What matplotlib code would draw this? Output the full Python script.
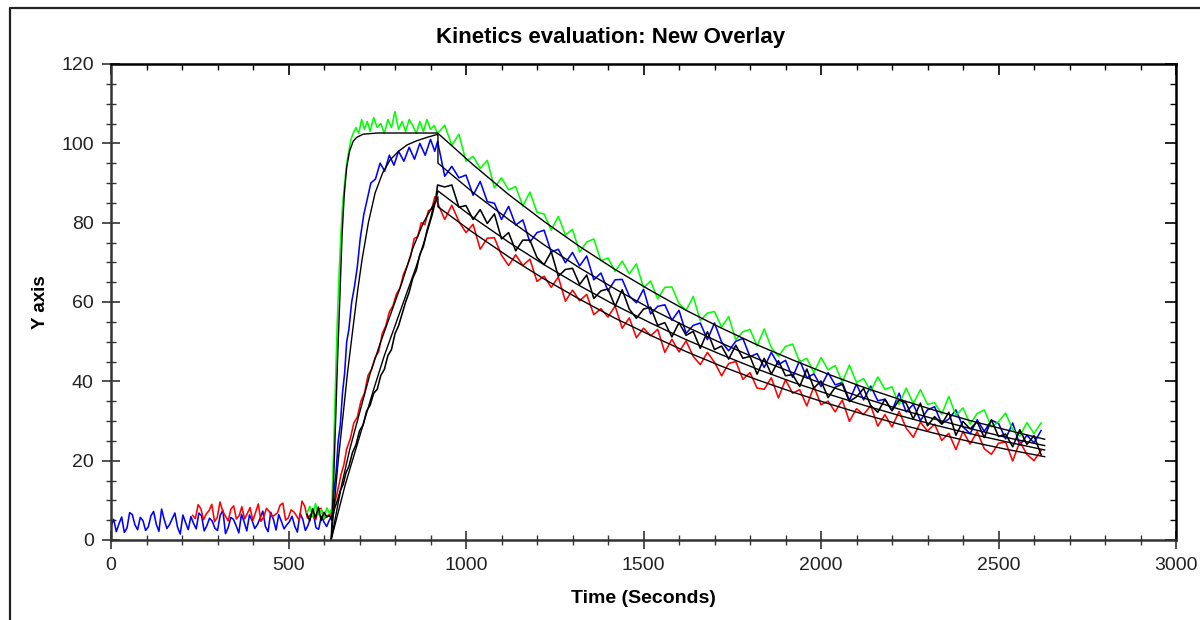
import numpy as np
import matplotlib.pyplot as plt
from matplotlib.ticker import MultipleLocator
from matplotlib.lines import Line2D

plt.rcParams['font.family'] = ['Liberation Sans', 'DejaVu Sans']

# dissociation phase is read every 20 s
t_diss = np.arange(940, 2621, 20)
# fitted curves read every 100 s in the dissociation phase
t_fit_diss = [1020, 1120, 1220, 1320, 1420, 1520, 1620, 1720, 1820, 1920,
              2020, 2120, 2220, 2320, 2420, 2520, 2630]

# ---- blue trace ----
blue_base = [3.5, 5.2, 2.1, 4.1, 5.8, 1.9, 3.0, 6.9, 6.4, 3.8, 2.6, 5.7, 4.9, 2.4,
             3.3, 6.1, 7.2, 4.0, 2.2, 7.8, 5.1, 2.9, 3.9, 5.4, 6.8, 3.2, 1.5, 6.3,
             4.4, 2.6, 5.9, 4.2, 2.8, 6.8, 6.1, 2.3, 3.6, 5.5, 4.8, 3.0, 2.4, 6.2,
             7.5, 1.6, 3.1, 5.7, 5.2, 3.6, 1.8, 6.5, 4.6, 2.3, 6.3, 4.9, 2.9, 3.9,
             5.5, 7.3, 3.4, 2.1, 7.0, 5.2, 2.5, 6.4, 4.7, 2.8, 3.8, 4.6, 6.0, 3.5,
             2.0, 6.7, 5.3, 2.4, 3.7, 5.9, 6.6, 3.1, 2.7, 6.0, 4.5, 3.4, 5.0]
blue_rise_t = [622, 628, 634, 640, 646, 652, 658, 664, 670, 678, 686, 694, 702, 712,
               722, 732, 745, 758, 771, 784, 797, 810, 825, 840, 855, 870, 885, 900,
               912, 920]
blue_rise = [6, 12, 17, 25, 29, 37, 42, 50, 53, 60, 64, 69, 76, 82, 86, 90, 91, 95,
             93, 97, 94.5, 98, 95.5, 99, 96, 100, 97, 101, 98, 100.5]
blue_diss = [91.7, 94.2, 91.3, 92.0, 86.9, 90.4, 85.3, 84.9, 80.8, 84.1,
             79.4, 80.7, 75.1, 77.5, 78.1, 72.6, 73.3, 69.9, 72.5, 69.1,
             71.6, 65.6, 67.3, 62.8, 65.6, 65.7, 61.5, 59.8, 63.2, 57.0,
             58.9, 59.3, 55.4, 57.9, 52.1, 54.1, 54.7, 50.5, 54.7, 49.9,
             47.7, 50.1, 50.8, 46.2, 47.0, 43.5, 47.3, 44.2, 45.3, 41.0,
             45.3, 40.9, 41.9, 38.7, 42.2, 39.1, 39.7, 35.2, 39.3, 35.3,
             38.8, 35.1, 35.5, 32.6, 37.0, 32.3, 34.2, 30.1, 32.8, 33.6,
             29.3, 30.5, 32.8, 28.5, 26.8, 30.3, 27.4, 30.2, 29.4, 25.5,
             29.5, 23.9, 26.4, 24.5, 27.6]

# ---- red trace ----
red_base = [6.2, 5.4, 8.9, 7.9, 5.1, 6.6, 7.4, 9.0, 4.6, 5.7, 9.6, 7.3, 6.0, 4.8,
            7.8, 8.6, 5.3, 6.1, 8.4, 5.3, 6.7, 8.2, 4.9, 6.9, 9.1, 4.7, 5.8, 8.0,
            7.2, 5.9, 6.3, 6.8, 8.8, 9.3, 5.0, 5.6, 7.6, 7.1, 6.1, 4.9, 9.8, 8.5,
            5.5, 6.3, 6.9, 5.1, 7.7, 8.0, 5.2, 6.0, 6.4]
red_rise_t = [624, 632, 640, 648, 656, 664, 674, 684, 694, 704, 714, 724, 734, 744,
              754, 764, 774, 784, 794, 804, 814, 824, 834, 844, 854, 864, 874, 884,
              894, 904, 912, 920]
red_rise = [7, 10, 13, 16.5, 19, 23, 25.5, 29.5, 31, 35, 37, 41.5, 43, 46, 47.5, 52,
            54, 57.5, 59, 62, 63.5, 67, 69, 71.5, 76, 76.5, 80, 79.5, 83, 83.5, 86.5, 85]
red_diss = [80.8, 84.4, 80.3, 77.5, 79.6, 73.3, 76.1, 76.2, 71.8, 69.2,
            71.9, 69.2, 70.8, 65.2, 66.5, 63.7, 66.3, 60.2, 63.0, 60.3,
            61.9, 56.8, 58.3, 56.2, 59.0, 53.4, 56.0, 51.0, 53.4, 51.5,
            53.1, 47.3, 50.6, 47.4, 50.2, 46.3, 44.2, 47.3, 44.8, 41.4,
            44.5, 45.0, 40.5, 42.2, 38.3, 38.0, 40.9, 35.8, 40.4, 37.0,
            37.9, 33.8, 38.7, 34.1, 35.0, 32.3, 35.3, 29.9, 33.1, 31.6,
            33.9, 28.7, 31.6, 28.5, 32.4, 28.2, 25.9, 29.7, 27.5, 29.2,
            25.1, 26.9, 22.8, 27.4, 24.2, 27.3, 23.0, 21.6, 24.4, 24.7,
            19.9, 24.8, 21.6, 20.0, 22.6]

# ---- green trace ----
green_base = [6.8, 8.5, 5.9, 9.2, 6.4, 7.7, 5.5, 8.1, 6.6]
green_rise_t = [622, 627, 632, 637, 642, 647, 652, 658, 664, 670, 676, 682, 690, 698,
                706, 714, 722, 730, 740, 750, 760, 770, 780, 790, 800, 810, 820, 830,
                840, 850, 860, 870, 880, 890, 900, 910, 920]
green_rise = [8, 22, 38, 54, 66, 76, 84, 90, 95, 98, 101, 102.5, 104, 102.5, 106,
              103.5, 105.5, 103, 106.5, 104, 105, 102.5, 106, 104, 108, 103.5, 105.5,
              103, 106, 104.5, 102.5, 105.5, 103, 106, 103.5, 104.5, 102.5]
green_diss = [104.6, 99.5, 102.3, 95.5, 96.7, 93.7, 95.7, 88.8, 91.3, 88.3,
              89.1, 84.2, 87.7, 82.6, 82.2, 78.1, 81.6, 76.9, 78.3, 72.6,
              75.1, 75.9, 70.4, 71.1, 67.7, 70.3, 67.1, 69.6, 63.6, 65.3,
              60.8, 63.7, 63.8, 59.6, 57.9, 61.4, 55.3, 57.2, 57.6, 53.7,
              56.3, 50.5, 52.5, 53.1, 48.9, 53.2, 48.5, 46.3, 48.8, 49.4,
              44.9, 45.8, 42.2, 46.0, 42.9, 44.0, 39.8, 44.1, 39.7, 40.7,
              37.5, 41.1, 38.0, 38.6, 34.2, 38.3, 34.4, 37.9, 34.2, 34.6,
              31.7, 36.2, 31.4, 33.3, 29.2, 31.9, 32.8, 28.5, 29.8, 32.0,
              27.8, 26.2, 29.6, 26.8, 29.5]

# ---- black trace ----
black_base = [6.5, 4.8, 7.9, 5.6, 8.3, 4.9, 7.0, 5.8, 6.2]
black_rise_t = [622, 630, 638, 646, 654, 662, 670, 680, 690, 700, 710, 720, 730, 740,
                750, 760, 770, 780, 790, 800, 810, 820, 830, 840, 850, 860, 870, 880,
                890, 900, 908, 914, 920]
black_rise = [5, 8, 10, 12.5, 14, 17, 18.5, 22, 24, 27.5, 29, 32.5, 34, 37, 38, 41.5,
              43, 46.5, 48, 52, 54, 57, 60, 62.5, 66, 68, 72, 74, 78, 81, 84, 85.5, 89.5]
black_diss = [89.0, 89.5, 83.9, 84.3, 80.8, 83.3, 79.8, 82.2, 75.9, 77.5,
              72.9, 75.6, 75.6, 71.2, 69.4, 72.7, 66.5, 68.2, 68.5, 64.4,
              66.8, 60.9, 62.8, 63.3, 58.9, 63.1, 58.2, 55.9, 58.2, 58.7,
              54.1, 54.8, 51.2, 54.8, 51.6, 52.6, 48.3, 52.5, 48.0, 48.9,
              45.6, 49.1, 45.8, 46.3, 41.8, 45.8, 41.8, 45.2, 41.4, 41.7,
              38.7, 43.1, 38.3, 40.1, 35.9, 38.5, 39.3, 34.9, 36.1, 38.2,
              33.9, 32.2, 35.5, 32.6, 35.3, 34.5, 30.5, 34.5, 28.8, 31.1,
              29.2, 32.2, 26.4, 29.9, 28.0, 29.8, 25.8, 30.3, 26.1, 26.7,
              23.5, 27.8, 24.1, 26.3, 21.5]

# ---- fitted curves (thin black) ----
green_fit_t = [620, 626, 632, 638, 645, 651, 657, 664, 672, 682, 692, 710, 750, 920] + t_fit_diss
green_fit = [0, 12, 28, 45, 62, 77, 87, 94, 98, 100.5, 101.5, 102.3, 102.6, 102.6,
             94.6, 87.1, 80.3, 74.0, 68.2, 62.9, 57.9, 53.4, 49.2, 45.4, 41.8, 38.5,
             35.5, 32.7, 30.1, 27.8, 25.4]
blue_fit_t = [620, 630, 640, 652, 666, 682, 695, 707, 725, 744, 765, 786, 810, 834,
              860, 890, 921, 921] + t_fit_diss
blue_fit = [0, 10, 20, 30, 42, 53.7, 63, 70.6, 80, 87.5, 92.5, 95.8, 98, 99.6, 100.6,
            101.5, 102.3, 95,
            87.6, 80.8, 74.4, 68.6, 63.3, 58.3, 53.8, 49.6, 45.7, 42.2, 38.9, 35.8,
            33.0, 30.5, 28.1, 25.9, 23.8]
red_fit_t = [620, 635, 650, 673, 700, 730, 760, 790, 820, 850, 880, 905, 921, 921] + t_fit_diss
red_fit = [0, 7, 14, 23, 32, 42, 50, 57.5, 65, 73.5, 80, 84, 86.5, 84,
           77.5, 71.4, 65.8, 60.7, 55.9, 51.6, 47.5, 43.8, 40.4, 37.3, 34.4, 31.7,
           29.2, 26.9, 24.8, 22.9, 21.0]
black_fit_t = [620, 640, 660, 685, 710, 740, 770, 800, 830, 860, 885, 905, 921] + t_fit_diss
black_fit = [0, 7, 14, 21.5, 29, 38, 46.5, 54, 61.5, 69, 76, 82, 88,
             81.3, 75.1, 69.4, 64.1, 59.2, 54.7, 50.5, 46.7, 43.1, 39.8, 36.8, 34.0,
             31.4, 29.0, 26.8, 24.8, 22.7]


def trace(t_base, base, t_rise, rise, diss):
    t = np.concatenate([t_base, t_rise, t_diss])
    y = np.concatenate([base, rise, diss])
    return t, y


curves = [
    (np.linspace(0, 615, len(blue_base)), blue_base, blue_rise_t, blue_rise, blue_diss, '#0000ff'),
    (np.linspace(230, 615, len(red_base)), red_base, red_rise_t, red_rise, red_diss, '#ff0000'),
    (np.linspace(552, 616, len(green_base)), green_base, green_rise_t, green_rise, green_diss, '#00ff00'),
    (np.linspace(552, 616, len(black_base)), black_base, black_rise_t, black_rise, black_diss, '#000000'),
]

fig = plt.figure(figsize=(12, 6.2), dpi=100)
ax = fig.add_axes([111 / 1200, 1 - 540 / 620, (1176 - 111) / 1200, (540 - 64) / 620])

for tb, b, tr, r, d, c in curves:
    t, y = trace(tb, b, tr, r, d)
    ax.plot(t, y, color=c, lw=1.15)

for ft, fv in [(green_fit_t, green_fit), (blue_fit_t, blue_fit),
               (red_fit_t, red_fit), (black_fit_t, black_fit)]:
    ax.plot(ft, fv, color='black', lw=1.0)

ax.set_xlim(0, 3000)
ax.set_ylim(0, 120)
ax.xaxis.set_major_locator(MultipleLocator(500))
ax.xaxis.set_minor_locator(MultipleLocator(100))
ax.yaxis.set_major_locator(MultipleLocator(20))
ax.yaxis.set_minor_locator(MultipleLocator(5))
ax.tick_params(which='major', direction='inout', length=13, width=1.2, color='#333333',
               labelsize=14, pad=6, labelcolor='#222222')
ax.tick_params(which='minor', direction='inout', length=7, width=1.0, color='#333333')

for side in ['top', 'right']:
    ax.spines[side].set_color('black')
    ax.spines[side].set_linewidth(1.8)
for side in ['bottom', 'left']:
    ax.spines[side].set_color('#333333')
    ax.spines[side].set_linewidth(1.8)

top = ax.secondary_xaxis('top')
top.xaxis.set_major_locator(MultipleLocator(500))
top.xaxis.set_minor_locator(MultipleLocator(100))
top.tick_params(which='major', direction='in', length=8, width=1.2, labeltop=False)
top.tick_params(which='minor', direction='in', length=4, width=1.0)
right = ax.secondary_yaxis('right')
right.yaxis.set_major_locator(MultipleLocator(20))
right.yaxis.set_minor_locator(MultipleLocator(5))
right.tick_params(which='major', direction='in', length=8, width=1.2, labelright=False)
right.tick_params(which='minor', direction='in', length=4, width=1.0)

fig.text(611 / 1200, 1 - 37 / 620, 'Kinetics evaluation: New Overlay', fontsize=16,
         fontweight='bold', ha='center', va='center')
ax.set_xlabel('Time (Seconds)', fontsize=14, fontweight='bold', labelpad=11)
ax.set_ylabel('Y axis', fontsize=13.5, fontweight='bold', labelpad=9)

# window frame on the left and top
fig.add_artist(Line2D([10 / 1200, 10 / 1200, 1.0], [0.0, 1 - 8 / 620, 1 - 8 / 620],
                      transform=fig.transFigure, color='#222222', lw=1.6))

fig.savefig('out.png', dpi=100)
